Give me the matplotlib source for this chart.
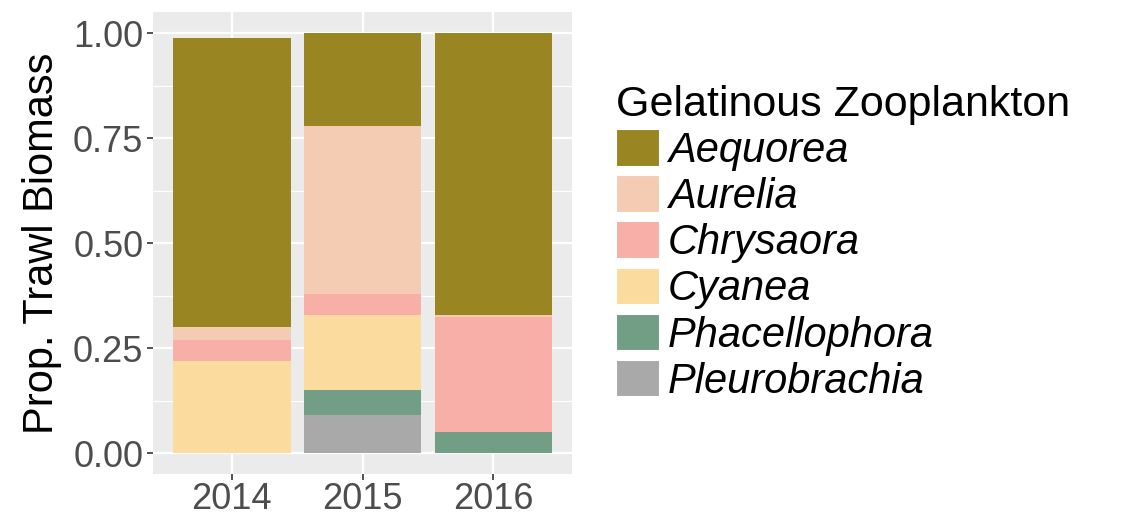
import numpy as np
import matplotlib.pyplot as plt
from matplotlib.patches import Patch

plt.rcParams['font.family'] = ['Liberation Sans', 'DejaVu Sans']

years = ['2014', '2015', '2016']
taxa = ['Aequorea', 'Aurelia', 'Chrysaora', 'Cyanea', 'Phacellophora', 'Pleurobrachia']
colors = ['#998623', '#F4CCB4', '#F7AFA8', '#FBDB9E', '#729E86', '#A9A9A9']

# proportions per year, same order as taxa
aequorea = [0.69, 0.22, 0.67]
aurelia = [0.03, 0.40, 0.005]
chrysaora = [0.05, 0.05, 0.275]
cyanea = [0.22, 0.18, 0.0]
phacellophora = [0.0, 0.06, 0.05]
pleurobrachia = [0.0, 0.09, 0.0]

values = [aequorea, aurelia, chrysaora, cyanea, phacellophora, pleurobrachia]

fig = plt.figure(figsize=(11.26, 5.16), dpi=100)
ax = fig.add_axes([0.1359, 0.0814, 0.508 - 0.1359, 0.9767 - 0.0814])
ax.set_facecolor('#EBEBEB')

x = np.arange(1, len(years) + 1)
bottom = np.zeros(len(years))
# stack from the last taxon up so Aequorea sits on top
for name, vals, c in reversed(list(zip(taxa, values, colors))):
    vals = np.array(vals)
    ax.bar(x, vals, width=0.9, bottom=bottom, color=c, linewidth=0, zorder=3)
    bottom += vals

ax.set_xlim(0.4, 3.6)
ax.set_ylim(-0.05, 1.051)
ax.set_xticks(x)
ax.set_xticklabels(years)
ax.set_yticks([0, 0.25, 0.5, 0.75, 1.0])
ax.set_yticklabels(['0.00', '0.25', '0.50', '0.75', '1.00'])
ax.set_yticks([0.125, 0.375, 0.625, 0.875], minor=True)

ax.grid(which='major', color='white', linewidth=1.6, zorder=0)
ax.grid(which='minor', axis='y', color='white', linewidth=0.8, zorder=0)
ax.set_axisbelow(True)
for s in ax.spines.values():
    s.set_visible(False)

ax.tick_params(axis='both', which='major', length=4, width=1.2, color='#333333',
               labelsize=26, labelcolor='#4D4D4D', pad=3)
ax.tick_params(axis='x', pad=2)
ax.tick_params(which='minor', length=0)
ax.set_ylabel('Prop. Trawl Biomass', fontsize=30, labelpad=8)

handles = [Patch(facecolor=c, edgecolor='white', linewidth=1.5) for c in colors]
leg = fig.legend(handles, taxa, title='Gelatinous Zooplankton', loc='upper left',
                 bbox_to_anchor=(0.547, 0.835), frameon=False,
                 title_fontsize=31, prop={'style': 'italic', 'size': 30},
                 handlelength=1.05, handleheight=1.0, handletextpad=0.2,
                 labelspacing=0.1, borderpad=0, borderaxespad=0)
leg._legend_box.align = 'left'

fig.savefig('out.png', dpi=100)
